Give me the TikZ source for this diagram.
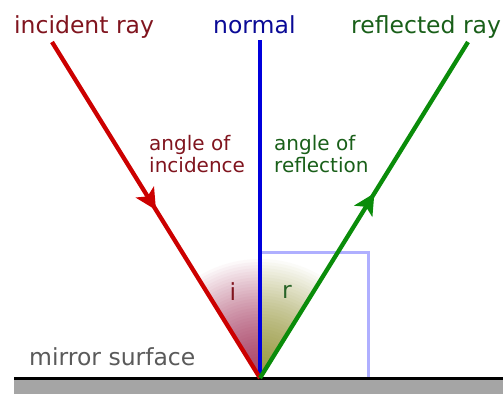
\documentclass[tikz,border=0pt]{standalone}
\usepackage{fontspec}
\setmainfont{DejaVu Sans}
\usetikzlibrary{arrows.meta,decorations.markings}
\definecolor{rayred}{RGB}{204,0,0}
\definecolor{raygreen}{RGB}{10,140,10}
\definecolor{rayblue}{RGB}{0,0,220}
\definecolor{txtred}{RGB}{128,20,30}
\definecolor{txtgreen}{RGB}{25,95,25}
\definecolor{txtblue}{RGB}{10,10,150}
\definecolor{txtgray}{RGB}{90,90,90}
\definecolor{boxblue}{RGB}{175,175,255}
\definecolor{mirrorgray}{RGB}{165,165,165}
\definecolor{shadei}{RGB}{170,70,105}
\definecolor{shader}{RGB}{155,155,70}
\tikzset{
  biglbl/.style={font=\fontsize{23.5}{26}\selectfont, inner sep=0pt, anchor=base west},
  smalllbl/.style={font=\fontsize{20}{22}\selectfont, inner sep=0pt, anchor=base west},
  ray/.style={line width=4.3pt},
  midarrow/.style={postaction={decorate}, decoration={markings,
     mark=at position #1 with {\arrow{Stealth[length=21pt,width=21pt,inset=5pt]}}}}
}
\begin{document}
\begin{tikzpicture}[x=1pt,y=-1pt]
\useasboundingbox (0,0) rectangle (503,394);
\coordinate (V) at (260,378);
\coordinate (A) at (52,42);
\coordinate (B) at (468,42);
\coordinate (N) at (260,40);
% angle shadings (radial fade)
\begin{scope}
  \clip (V) -- (A) -- (N) -- cycle;
  \foreach \k in {0,...,39} {
    \pgfmathsetmacro\rad{122*(1-\k/40)}
    \pgfmathsetmacro\fr{100*(1-(\rad/122)^1.6)}
    \fill[shadei!\fr!white] (V) circle (\rad);
  }
\end{scope}
\begin{scope}
  \clip (V) -- (N) -- (B) -- cycle;
  \foreach \k in {0,...,39} {
    \pgfmathsetmacro\rad{122*(1-\k/40)}
    \pgfmathsetmacro\fr{100*(1-(\rad/122)^1.6)}
    \fill[shader!\fr!white] (V) circle (\rad);
  }
\end{scope}
% right-angle box
\coordinate (C1) at (262,252);
\coordinate (C2) at (368,252);
\coordinate (C3) at (368,378);
\draw[boxblue, line width=3pt] (C1) -- (C2) -- (C3);
% mirror
\coordinate (M1) at (14,380);
\coordinate (M2) at (503,394);
\fill[mirrorgray] (M1) rectangle (M2);
\coordinate (L1) at (14,378.5);
\coordinate (L2) at (503,378.5);
\draw[black, line width=3pt] (L1) -- (L2);
% rays
\draw[ray, rayblue] (N) -- (V);
\draw[ray, rayred, midarrow=0.5] (A) -- (V);
\draw[ray, raygreen, midarrow=0.55] (V) -- (B);
% labels
\node[biglbl, text=txtred] (tinc) at (14,33) {incident ray};
\node[biglbl, text=txtblue] (tnorm) at (213,33) {normal};
\node[biglbl, text=txtgreen] (trefl) at (351,33) {reflected ray};
\node[smalllbl, text=txtred] (ainc1) at (149,150) {angle of};
\node[smalllbl, text=txtred] (ainc2) at (149,172) {incidence};
\node[smalllbl, text=txtgreen] (aref1) at (274,150) {angle of};
\node[smalllbl, text=txtgreen] (aref2) at (274,172) {reflection};
\node[biglbl, anchor=base, text=txtred] (ti) at (233,300) {i};
\node[biglbl, anchor=base, text=txtgreen!85!gray] (tr) at (287,298) {r};
\node[biglbl, text=txtgray] (tmir) at (29,365) {mirror surface};
\end{tikzpicture}
\end{document}
